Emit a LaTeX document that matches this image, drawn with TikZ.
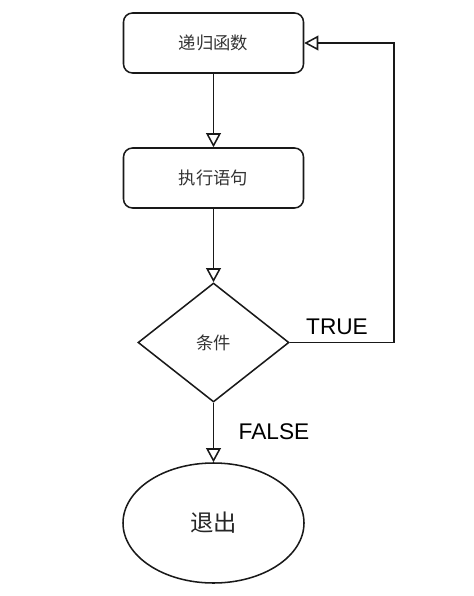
\documentclass[tikz,border=0pt]{standalone}
\usepackage{fontspec}
\setmainfont{Liberation Sans}
\newfontfamily\cjk{Noto Sans CJK SC}
\usetikzlibrary{shapes.geometric,arrows.meta}
\begin{document}
\begin{tikzpicture}[x=0.75pt,y=-0.75pt,
  line width=1.15pt, draw=black!90,
  stepbox/.style={draw, rounded corners=6.75pt, minimum width=135pt, minimum height=45pt, inner sep=0pt, font=\cjk\fontsize{13}{15}\selectfont, text=black!80},
  cond/.style={draw, diamond, minimum width=113.25pt, minimum height=89.25pt, inner sep=0pt, aspect=1.27, font=\cjk\fontsize{13}{15}\selectfont, text=black!80},
  term/.style={draw, ellipse, minimum width=135.75pt, minimum height=90pt, inner sep=0pt, font=\cjk\fontsize{17.5}{20}\selectfont, text=black!85},
  lbl/.style={font=\fontsize{17}{20}\selectfont, text=black},
  arr/.style={-{Triangle[open, width=11pt, length=10.5pt]}, draw=black!90}
]
\useasboundingbox (0,0) rectangle (474,596);
\node[stepbox] (b1) at (213.5,43) {递归函数};
\node[stepbox] (b2) at (213.5,178) {执行语句};
\node[cond] (d) at (213.5,342.5) {条件};
\node[term] (e) at (213.5,523) {退出};
\coordinate (c) at (394,43);
\draw[arr] (b1) -- (b2);
\draw[arr] (b2) -- (d);
\draw[arr] (d) -- (e);
\draw[arr] (d.east) -| (c) -- (b1.east);
\node[lbl] (t) at (337,327) {TRUE};
\node[lbl] (f) at (274,432) {FALSE};
\end{tikzpicture}
\end{document}
